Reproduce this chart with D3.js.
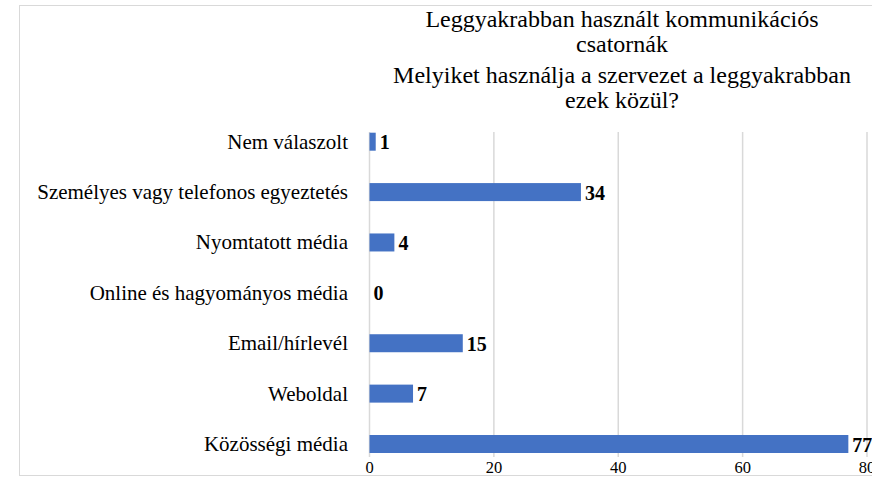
<!DOCTYPE html>
<html>
<head>
<meta charset="utf-8">
<script src="https://cdn.jsdelivr.net/npm/d3@7"></script>
<style>
  body { margin: 0; background: #fff; }
  svg { display: block; font-family: "Liberation Serif", "Times New Roman", serif; }
</style>
</head>
<body>
<div id="chart"></div>
<script>
// data
var categories = ["Nem válaszolt", "Személyes vagy telefonos egyeztetés", "Nyomtatott média",
  "Online és hagyományos média", "Email/hírlevél", "Weboldal", "Közösségi média"];
var counts = [1, 34, 4, 0, 15, 7, 77];
var xTicks = [0, 20, 40, 60, 80];
var titleLines = ["Leggyakrabban használt kommunikációs", "csatornák",
  "Melyiket használja a szervezet a leggyakrabban", "ezek közül?"];

var W = 872, H = 477;
var svg = d3.select("#chart").append("svg").attr("width", W).attr("height", H);

// chart border
svg.append("rect").attr("x", 19.5).attr("y", 5.5).attr("width", 900).attr("height", 470)
  .attr("fill", "none").attr("stroke", "#d9d9d9");

// title
var titleY = [27, 52, 83, 108];
svg.selectAll(".title").data(titleLines).enter().append("text")
  .attr("class", "title")
  .attr("x", 622).attr("y", (d, i) => titleY[i])
  .attr("text-anchor", "middle").attr("font-size", 24).attr("fill", "#000")
  .text(d => d);

var x = d3.scaleLinear().domain([0, 80]).range([369.5, 867]);
var y = d3.scalePoint().domain(categories).range([141.7, 444]);
var barH = 18;
var gridTop = 132, gridBot = 457;

// vertical gridlines
svg.selectAll(".grid").data(xTicks).enter().append("line")
  .attr("x1", d => x(d)).attr("x2", d => x(d))
  .attr("y1", gridTop).attr("y2", gridBot)
  .attr("stroke", "#d9d9d9").attr("stroke-width", 1.5);

// tick labels
svg.selectAll(".tick").data(xTicks).enter().append("text")
  .attr("x", d => x(d)).attr("y", 473)
  .attr("text-anchor", "middle").attr("font-size", 16.5).attr("fill", "#000")
  .text(d => d);

// category labels
svg.selectAll(".cat").data(categories).enter().append("text")
  .attr("x", 348).attr("y", d => y(d)).attr("dy", "0.33em")
  .attr("text-anchor", "end").attr("font-size", 21).attr("fill", "#000")
  .text(d => d);

// bars
var rows = categories.map((c, i) => ({cat: c, val: counts[i]}));
svg.selectAll(".bar").data(rows).enter().append("rect")
  .attr("x", x(0)).attr("y", d => y(d.cat) - barH / 2)
  .attr("width", d => x(d.val) - x(0)).attr("height", barH)
  .attr("fill", "#4472c4");

// value labels
svg.selectAll(".val").data(rows).enter().append("text")
  .attr("x", d => x(d.val) + 4).attr("y", d => y(d.cat)).attr("dy", "0.38em")
  .attr("font-size", 20).attr("font-weight", "bold").attr("fill", "#000")
  .text(d => d.val);
</script>
</body>
</html>
